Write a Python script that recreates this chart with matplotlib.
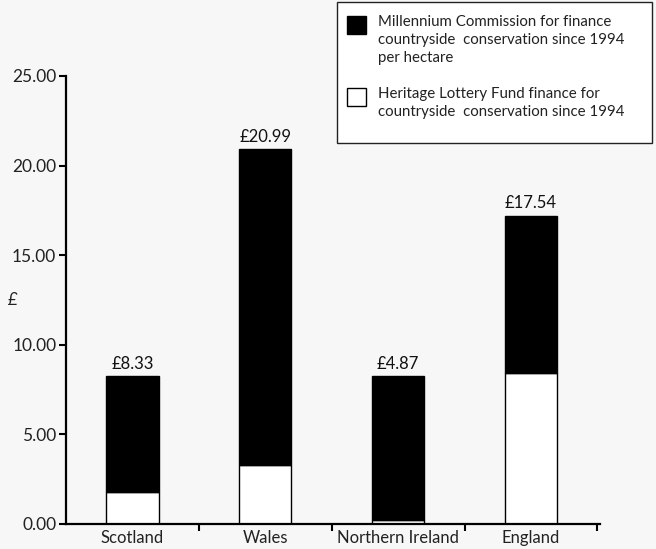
import matplotlib
matplotlib.use('Agg')
import matplotlib.pyplot as plt
from matplotlib.patches import Rectangle
import numpy as np

plt.rcParams['font.family'] = ['Lato', 'DejaVu Sans']

countries = ['Scotland', 'Wales', 'Northern Ireland', 'England']
heritage = [1.8, 3.3, 0.2, 8.4]        # white part
millennium = [6.45, 17.6, 8.05, 8.8]   # black part on top
bar_labels = ['£8.33', '£20.99', '£4.87', '£17.54']
yticks = [0, 5, 10, 15, 20, 25]

mill_name = 'Millennium Commission for finance\ncountryside  conservation since 1994\nper hectare'
her_name = 'Heritage Lottery Fund finance for\ncountryside  conservation since 1994'

bg = '#f7f7f7'
txt = '#222222'
W, H = 656, 549
fig = plt.figure(figsize=(W / 100, H / 100), dpi=100, facecolor=bg)
ax = fig.add_axes([66 / W, 1 - 524 / H, (600 - 66) / W, (524 - 76) / H], facecolor=bg)

x = np.arange(len(countries))
w = 0.395
ax.bar(x, heritage, w, color='white', edgecolor='black', linewidth=1.0)
ax.bar(x, millennium, w, bottom=heritage, color='black', edgecolor='black', linewidth=1.0)

tops = np.array(heritage) + np.array(millennium)
for xi, t, lab in zip(x, tops, bar_labels):
    ax.text(xi, t + 0.25, lab, ha='center', va='bottom', fontsize=12, color='#111111')

ax.set_xlim(-0.5, 3.52)
ax.set_ylim(0, 25)
ax.set_yticks(yticks)
ax.set_yticklabels(['%.2f' % v for v in yticks], fontsize=12.5, color=txt)
ax.set_xticks(x)
ax.set_xticklabels(countries, fontsize=12, color=txt)
ax.tick_params(axis='x', length=0, pad=4)
ax.set_xticks([0.5, 1.5, 2.5, 3.5], minor=True)
ax.tick_params(axis='x', which='minor', length=5, width=1.5, direction='out')
ax.tick_params(axis='y', length=5, width=1.5, pad=2)
for s in ['top', 'right']:
    ax.spines[s].set_visible(False)
for s in ['left', 'bottom']:
    ax.spines[s].set_linewidth(1.6)

fig.text(13 / W, 1 - 300 / H, '£', fontsize=12, style='italic', color=txt,
         ha='center', va='center')

# legend box drawn by hand so the squares line up with the first text line
def fx(px):
    return px / W

def fy(py):
    return 1 - py / H

fig.patches.append(Rectangle((fx(337), fy(143)), fx(652) - fx(337), fy(2) - fy(143),
                             transform=fig.transFigure, facecolor='white',
                             edgecolor=txt, linewidth=1.0))
entries = [(mill_name, 'black', 16), (her_name, 'white', 88)]
for name, col, top in entries:
    fig.patches.append(Rectangle((fx(347), fy(top + 18)), 19 / W, 18 / H,
                                 transform=fig.transFigure, facecolor=col,
                                 edgecolor='black', linewidth=1.0))
    fig.text(fx(378), fy(top - 1), name, fontsize=10.8, color=txt,
             ha='left', va='top', linespacing=1.35)

fig.savefig('out.png', dpi=100, facecolor=bg)
